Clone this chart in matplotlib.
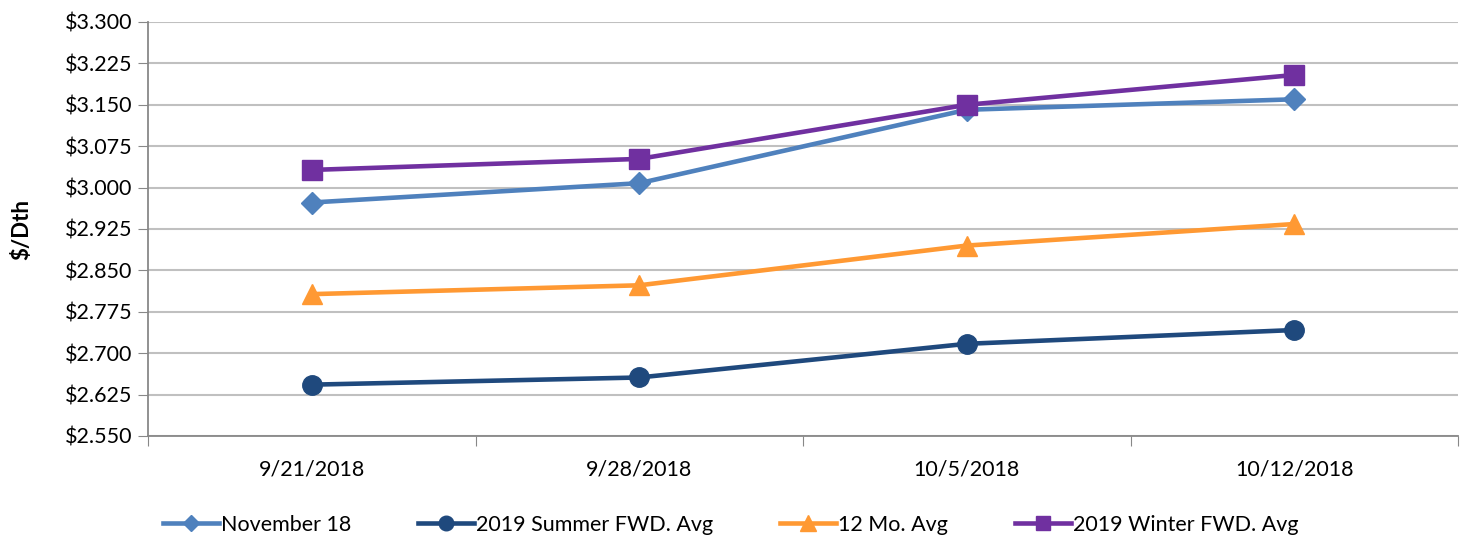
import matplotlib
matplotlib.use("Agg")
import matplotlib.pyplot as plt
from matplotlib.ticker import FixedLocator, FuncFormatter

dates = ["9/21/2018", "9/28/2018", "10/5/2018", "10/12/2018"]
november_18 = [2.973, 3.008, 3.141, 3.160]
summer_2019 = [2.643, 2.656, 2.717, 2.742]
twelve_mo = [2.807, 2.823, 2.895, 2.934]
winter_2019 = [3.032, 3.052, 3.150, 3.204]
y_ticks = [2.550, 2.625, 2.700, 2.775, 2.850, 2.925, 3.000, 3.075, 3.150, 3.225, 3.300]

plt.rcParams['font.family'] = ['Lato', 'DejaVu Sans']

fig = plt.figure(figsize=(14.61, 5.42), dpi=100)
ax = fig.add_axes([148/1461, 1-436/542, (1458-148)/1461, (436-22)/542])

x = list(range(len(dates)))
series = [
    ("November 18", november_18, "#4F81BD", "D", 11),
    ("2019 Summer FWD. Avg", summer_2019, "#1F497D", "o", 14),
    ("12 Mo. Avg", twelve_mo, "#FF9933", "^", 15),
    ("2019 Winter FWD. Avg", winter_2019, "#7030A0", "s", 14),
]
for name, vals, col, mk, ms in series:
    ax.plot(x, vals, color=col, lw=3.3, marker=mk, markersize=ms,
            markerfacecolor=col, markeredgecolor=col, label=name, zorder=3)

ax.set_xlim(-0.5, len(dates) - 0.5)
ax.set_ylim(y_ticks[0], y_ticks[-1])
ax.yaxis.set_major_locator(FixedLocator(y_ticks))
ax.yaxis.set_major_formatter(FuncFormatter(lambda v, p: f"${v:.3f}"))
ax.set_xticks([i - 0.5 for i in range(len(dates) + 1)])
ax.set_xticklabels([])
ax.set_xticks(x, minor=True)
ax.set_xticklabels(dates, minor=True)
ax.tick_params(axis='x', which='minor', length=0, labelsize=15.5, pad=17)
ax.tick_params(axis='x', which='major', length=7, color='#888888', direction='out')
ax.tick_params(axis='y', length=7, color='#888888', labelsize=15.5, pad=4)

ax.grid(axis='y', color='#c0c0c0', lw=1.5, zorder=0)
for s in ['top', 'right']:
    ax.spines[s].set_visible(False)
for s in ['left', 'bottom']:
    ax.spines[s].set_color('#888888')
    ax.spines[s].set_linewidth(1.3)

ax.set_ylabel("$/Dth", fontsize=16, fontweight='bold')
ax.yaxis.set_label_coords(-0.088, 0.5)

fig.legend(loc='lower center', bbox_to_anchor=(0.500, -0.022), ncol=4, frameon=False,
           fontsize=15.5, handlelength=2.6, columnspacing=3.1, handletextpad=0.1,
           markerscale=0.75)

fig.savefig("out.png", dpi=100)
